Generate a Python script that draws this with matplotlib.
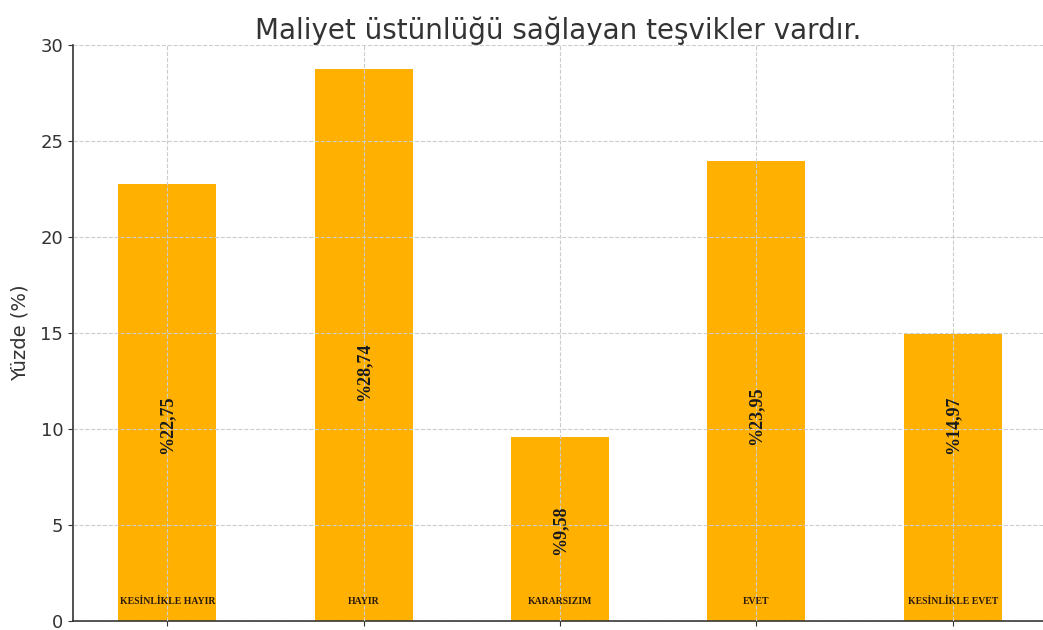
import matplotlib
matplotlib.use('Agg')
import matplotlib.pyplot as plt

# data
categories = ['KESİNLİKLE HAYIR', 'HAYIR', 'KARARSIZIM', 'EVET', 'KESİNLİKLE EVET']
values = [22.75, 28.74, 9.58, 23.95, 14.97]
value_labels = ['%22,75', '%28,74', '%9,58', '%23,95', '%14,97']
# vertical position of the value labels (as in the original)
label_pos = [10.2, 13.0, 4.7, 10.7, 10.2]

fig = plt.figure(figsize=(10.43, 6.3), dpi=100)
ax = fig.add_axes([0.070, 0.0143, 0.930, 0.9143])

x = range(len(categories))
ax.bar(x, values, width=0.5, color='#FFB000', zorder=1)

ax.set_axisbelow(False)
ax.grid(True, linestyle='--', color='#cccccc', linewidth=0.8, zorder=2)

for i, v in enumerate(values):
    ax.text(i, label_pos[i], value_labels[i], rotation=90, ha='center', va='center',
            fontsize=13, fontweight='heavy', family='Liberation Serif', color='#1a1a1a', zorder=3)
    ax.text(i, 1.0, categories[i], ha='center', va='center',
            fontsize=7, fontweight='heavy', family='Liberation Serif', color='#2a1a10', zorder=3)

ax.set_xticks(list(x))
ax.set_xticklabels([''] * len(categories))
ax.set_xlim(-0.48, 4.46)
ax.set_ylim(0, 30)
ax.set_yticks([0, 5, 10, 15, 20, 25, 30])
ax.tick_params(axis='y', labelsize=13, colors='#333333')
ax.tick_params(axis='x', colors='#333333')

for s in ['top', 'right']:
    ax.spines[s].set_visible(False)
for s in ['left', 'bottom']:
    ax.spines[s].set_color('#333333')
    ax.spines[s].set_linewidth(1.2)

ax.set_ylabel('Yüzde (%)', fontsize=14, color='#333333', labelpad=8)
ax.set_title('Maliyet üstünlüğü sağlayan teşvikler vardır.', fontsize=20, color='#333333', pad=4)

plt.savefig('out.png', dpi=100)
